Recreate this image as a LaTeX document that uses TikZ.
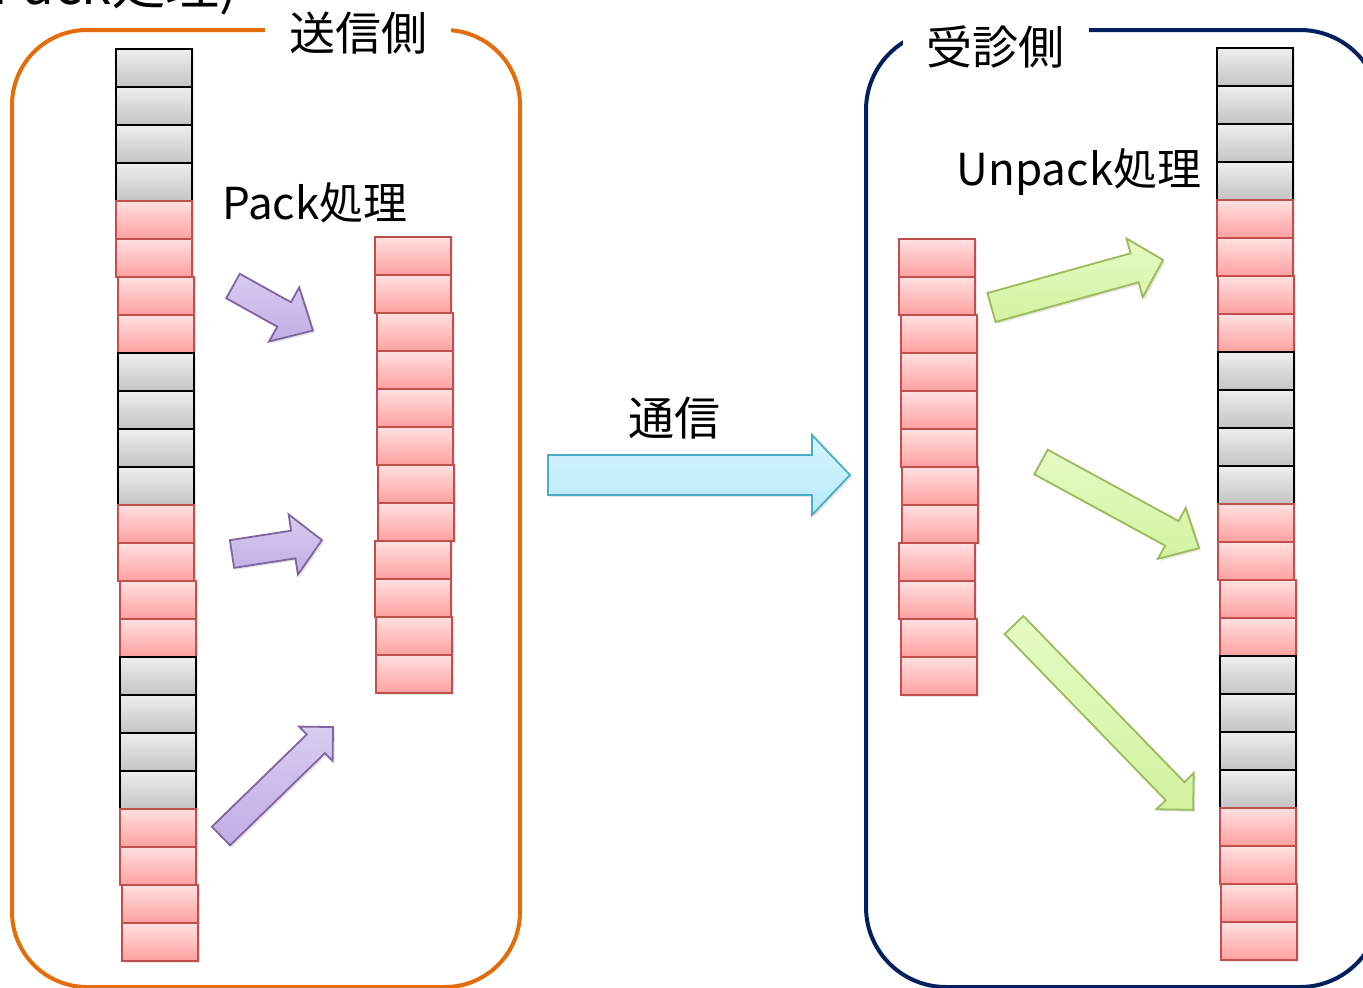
\documentclass[tikz,border=0pt]{standalone}
\usepackage{fontspec}
\setmainfont{Noto Sans CJK JP}
\usetikzlibrary{shadows}
\definecolor{orangeB}{RGB}{228,108,10}
\definecolor{navyB}{RGB}{0,32,96}
\definecolor{redB}{RGB}{192,80,77}
\definecolor{redT}{RGB}{255,224,224}
\definecolor{redBot}{RGB}{255,160,160}
\definecolor{grayT}{RGB}{238,238,238}
\definecolor{grayBot}{RGB}{196,196,196}
\definecolor{purB}{RGB}{128,100,162}
\definecolor{purT}{RGB}{216,204,240}
\definecolor{purBot}{RGB}{194,174,228}
\definecolor{grnB}{RGB}{155,187,89}
\definecolor{grnT}{RGB}{230,250,196}
\definecolor{grnBot}{RGB}{210,243,160}
\definecolor{bluB}{RGB}{75,172,198}
\definecolor{bluT}{RGB}{214,245,253}
\definecolor{bluBot}{RGB}{182,234,249}
\tikzset{
  blk/.style={minimum width=76pt, minimum height=38pt, inner sep=0pt, outer sep=0pt,
    anchor=north west, line width=2pt,
    drop shadow={opacity=0.18, shadow xshift=2pt, shadow yshift=-2pt}},
  lbl/.style={inner sep=0pt, font=\fontsize{44}{50}\selectfont},
  title/.style={fill=white, inner xsep=24pt, inner ysep=4pt, font=\fontsize{46}{52}\selectfont},
  purarrow/.style={draw=purB, line width=1.8pt, top color=purT, bottom color=purBot,
    drop shadow={opacity=0.2, shadow xshift=2pt, shadow yshift=-2pt}},
  grnarrow/.style={draw=grnB, line width=1.8pt, top color=grnT, bottom color=grnBot,
    drop shadow={opacity=0.2, shadow xshift=2pt, shadow yshift=-2pt}},
  bluarrow/.style={draw=bluB, line width=1.8pt, top color=bluT, bottom color=bluBot,
    drop shadow={opacity=0.2, shadow xshift=2pt, shadow yshift=-2pt}},
  frameO/.style={draw=orangeB, line width=4pt, rounded corners=75pt},
  frameN/.style={draw=navyB, line width=4pt, rounded corners=80pt},
}
% #1 x, #2 y, #3 canvas angle, #4 length, #5 shaft half, #6 head half, #7 head length, #8 style
\newcommand\blockarrow[8]{%
  \begin{scope}[shift={(#1,#2)}, rotate=#3]
    \path[#8] (0,-#5) -- ({#4-#7},-#5) -- ({#4-#7},-#6) -- (#4,0) -- ({#4-#7},#6) -- ({#4-#7},#5) -- (0,#5) -- cycle;
  \end{scope}}
\begin{document}
\begin{tikzpicture}[x=1pt,y=-1pt]
\clip (0,0) rectangle (1363,988);
\useasboundingbox (0,0) rectangle (1363,988);
\fill[white] (0,0) rectangle (1363,988);

% cut-off title at top
\node[anchor=base east, inner sep=0pt, font=\fontsize{54}{60}\selectfont] (toptitle) at (238,4) {Pack処理)};

% frames
\draw[frameO] (12,30) rectangle (520,987);
\draw[frameN] (866,30) rectangle (1380,987);
\node[title] (send) at (358,33) {送信側};
\node[title] (recv) at (995.5,47) {受診側};

% left column
\foreach \i in {0,...,23}{
  \pgfmathtruncatemacro\g{mod(floor(\i/4),2)}
  \pgfmathsetmacro\xo{116+2*floor((\i+2)/8)}
  \ifnum\g=0 \def\dc{black}\def\tc{grayT}\def\bc{grayBot}\else\def\dc{redB}\def\tc{redT}\def\bc{redBot}\fi
  \node[blk, draw=\dc, top color=\tc, bottom color=\bc] (L\i) at (\xo,{49+38*\i}) {};
}
% right column
\foreach \i in {0,...,23}{
  \pgfmathtruncatemacro\g{mod(floor(\i/4),2)}
  \pgfmathsetmacro\xo{1217+1.3*floor((\i+2)/8)}
  \ifnum\g=0 \def\dc{black}\def\tc{grayT}\def\bc{grayBot}\else\def\dc{redB}\def\tc{redT}\def\bc{redBot}\fi
  \node[blk, draw=\dc, top color=\tc, bottom color=\bc] (R\i) at (\xo,{48+38*\i}) {};
}
% packed columns
\foreach \i/\xo in {0/375,1/375,2/377,3/377,4/377,5/377,6/378,7/378,8/375,9/375,10/376,11/376}{
  \node[blk, draw=redB, top color=redT, bottom color=redBot] (P\i) at (\xo,{237+38*\i}) {};
}
\foreach \i/\xo in {0/899,1/899,2/901,3/901,4/901,5/901,6/902,7/902,8/899,9/899,10/901,11/901}{
  \node[blk, draw=redB, top color=redT, bottom color=redBot] (U\i) at (\xo,{239+38*\i}) {};
}

% labels
\node[lbl] (pack) at (315,203) {Pack処理};
\node[lbl] (unpack) at (1079,172) {Unpack処理};
\node[lbl, font=\fontsize{46}{52}\selectfont] (comm) at (674,418) {通信};

% arrows
\blockarrow{233}{286}{-29.1}{91.5}{14}{31}{33}{purarrow}
\blockarrow{232}{554}{8.8}{91}{14}{30.5}{29}{purarrow}
\blockarrow{221}{836}{44.2}{156.3}{13}{24}{24}{purarrow}
\blockarrow{548}{475}{0}{302}{20}{40}{38}{bluarrow}
\blockarrow{991.5}{307.5}{15.5}{178}{15}{30.5}{29.5}{grnarrow}
\blockarrow{1041}{462}{-28.6}{180}{14}{29}{31}{grnarrow}
\blockarrow{1014}{625}{-45.9}{257.4}{13}{26}{26}{grnarrow}
\end{tikzpicture}
\end{document}
